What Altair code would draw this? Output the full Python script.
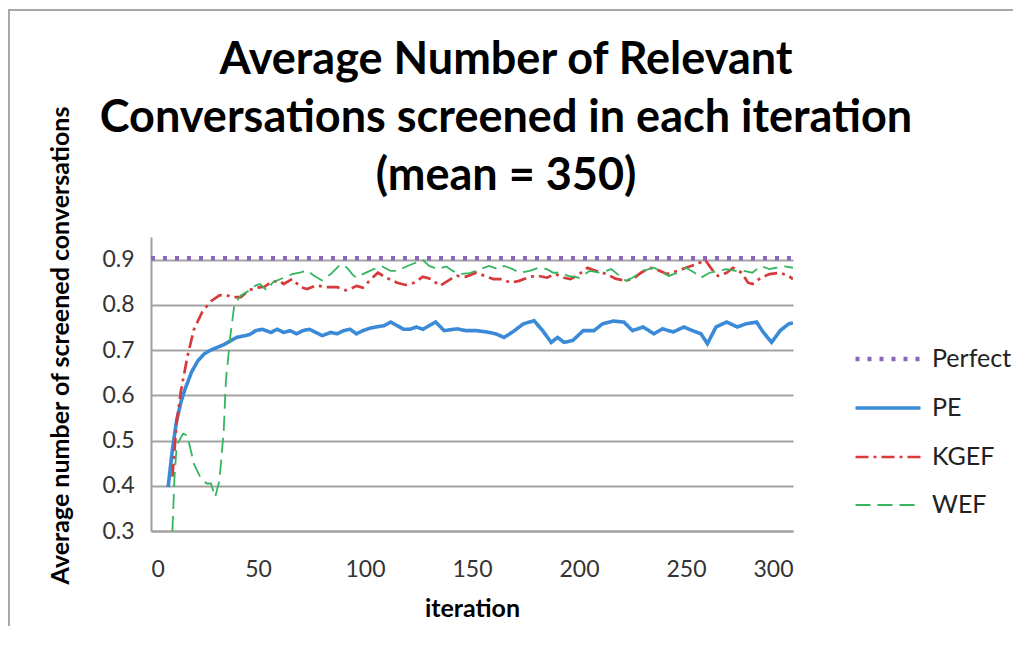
import altair as alt
import pandas as pd

# ---- data ----
perfect_x = [0, 300]
perfect_y = [0.903, 0.903]

pe_x = [8, 10, 12, 14, 16, 19, 22, 25, 28, 31, 34, 37, 40, 43, 46, 49, 52, 56, 59, 62,
        65, 68, 71, 74, 77, 80, 84, 87, 90, 93, 96, 99, 102, 105, 109, 112, 115, 118, 121, 124,
        127, 130, 133, 137, 143, 147, 152, 157, 161, 165, 169, 174, 179, 183, 187, 190, 193, 197, 202, 207,
        211, 216, 221, 225, 230, 235, 239, 244, 249, 253, 257, 260, 264, 269, 274, 278, 283, 286, 290, 294,
        298, 300]
pe_y = [0.397, 0.480, 0.545, 0.585, 0.615, 0.652, 0.677, 0.692, 0.700, 0.706, 0.712, 0.720, 0.728, 0.731, 0.734, 0.743, 0.746, 0.739, 0.746, 0.739,
        0.743, 0.736, 0.743, 0.746, 0.739, 0.732, 0.739, 0.736, 0.743, 0.746, 0.736, 0.743, 0.748, 0.751, 0.754, 0.762, 0.754, 0.746, 0.746, 0.751,
        0.746, 0.754, 0.762, 0.743, 0.747, 0.743, 0.743, 0.740, 0.736, 0.728, 0.740, 0.758, 0.765, 0.743, 0.717, 0.728, 0.717, 0.721, 0.743, 0.743,
        0.758, 0.764, 0.762, 0.743, 0.751, 0.736, 0.747, 0.740, 0.751, 0.743, 0.736, 0.714, 0.751, 0.762, 0.751, 0.758, 0.762, 0.740, 0.717, 0.743,
        0.758, 0.760]

kgef_x = [10, 12, 14, 17, 20, 24, 28, 32, 35, 38, 42, 46, 50, 53, 56, 60, 62, 66, 70, 73,
          77, 82, 87, 91, 93, 96, 99, 102, 106, 110, 115, 119, 123, 127, 131, 135, 140, 143, 147, 152,
          156, 160, 164, 168, 172, 177, 181, 185, 189, 193, 196, 199, 204, 208, 213, 217, 222, 226, 229, 233,
          236, 241, 246, 250, 255, 259, 262, 265, 269, 272, 276, 279, 281, 285, 289, 294, 298, 300]
kgef_y = [0.420, 0.540, 0.610, 0.685, 0.745, 0.785, 0.808, 0.821, 0.822, 0.817, 0.817, 0.833, 0.838, 0.840, 0.850, 0.854, 0.846, 0.857, 0.839, 0.835,
          0.843, 0.839, 0.839, 0.832, 0.835, 0.842, 0.838, 0.853, 0.871, 0.860, 0.849, 0.844, 0.849, 0.862, 0.857, 0.842, 0.857, 0.864, 0.862, 0.871,
          0.864, 0.857, 0.857, 0.849, 0.853, 0.862, 0.864, 0.860, 0.868, 0.860, 0.857, 0.864, 0.882, 0.875, 0.868, 0.858, 0.853, 0.860, 0.871, 0.882,
          0.879, 0.868, 0.875, 0.882, 0.890, 0.899, 0.879, 0.864, 0.871, 0.882, 0.871, 0.849, 0.846, 0.860, 0.868, 0.871, 0.864, 0.857]

wef_x = [10, 11, 12, 15, 17, 20, 23, 26, 28, 30, 32, 34, 35, 37, 39, 42, 46, 49, 51, 54,
         57, 62, 66, 70, 73, 76, 80, 84, 88, 90, 92, 94, 96, 99, 104, 108, 112, 115, 118, 123,
         127, 130, 134, 138, 141, 144, 149, 154, 158, 162, 165, 169, 172, 177, 181, 185, 188, 191, 195, 200,
         205, 210, 215, 218, 222, 225, 230, 235, 238, 242, 246, 250, 254, 257, 261, 265, 269, 273, 277, 281,
         285, 289, 292, 296, 300]
wef_y = [0.300, 0.420, 0.490, 0.515, 0.511, 0.449, 0.419, 0.405, 0.405, 0.375, 0.412, 0.523, 0.633, 0.728, 0.802, 0.821, 0.832, 0.843, 0.846, 0.832,
         0.850, 0.860, 0.868, 0.872, 0.876, 0.865, 0.854, 0.868, 0.887, 0.889, 0.880, 0.868, 0.860, 0.868, 0.879, 0.885, 0.875, 0.875, 0.882, 0.892,
         0.899, 0.886, 0.879, 0.885, 0.875, 0.868, 0.870, 0.879, 0.886, 0.879, 0.886, 0.879, 0.871, 0.875, 0.882, 0.879, 0.871, 0.871, 0.864, 0.860,
         0.875, 0.871, 0.879, 0.868, 0.853, 0.860, 0.875, 0.882, 0.875, 0.864, 0.871, 0.882, 0.871, 0.860, 0.871, 0.875, 0.879, 0.875, 0.875, 0.871,
         0.886, 0.879, 0.882, 0.885, 0.882]

series_names = ["Perfect", "PE", "KGEF", "WEF"]
series_colors = ["#8A68B8", "#3B8AD8", "#D63A3A", "#35B55E"]
series_dashes = [[4, 8], [1, 0], [13, 5, 3, 5], [15, 7]]
series_widths = [4.5, 1.8, 2, 2.5]

x_ticks = [0, 50, 100, 150, 200, 250, 300]
y_ticks = [0.3, 0.4, 0.5, 0.6, 0.7, 0.8, 0.9]

rows = []
for name, xs, ys in [("Perfect", perfect_x, perfect_y), ("PE", pe_x, pe_y),
                     ("KGEF", kgef_x, kgef_y), ("WEF", wef_x, wef_y)]:
    for xv, yv in zip(xs, ys):
        rows.append({"iteration": xv, "value": yv, "series": name})
df = pd.DataFrame(rows)

FONT = "Lato"

lines = alt.Chart(df).mark_line(clip=True).encode(
    x=alt.X("iteration:Q",
            scale=alt.Scale(domain=[0, 300], nice=False),
            axis=alt.Axis(values=x_ticks, title="iteration", grid=False, ticks=False,
                          labelPadding=27, titlePadding=15)),
    y=alt.Y("value:Q",
            scale=alt.Scale(domain=[0.3, 0.95], nice=False, zero=False),
            axis=alt.Axis(values=y_ticks, format=".1f", title="Average number of screened conversations",
                          grid=True, ticks=False, labelPadding=17,
                          titleAngle=270, titleX=-91, titleY=108,
                          titleAlign="center", titleBaseline="middle")),
    color=alt.Color("series:N",
                    scale=alt.Scale(domain=series_names, range=series_colors),
                    legend=alt.Legend(title=None, orient="none", legendX=702, legendY=87,
                                      symbolType="stroke", symbolSize=4225,
                                      labelFont=FONT, labelFontSize=25, labelColor="#222222",
                                      labelOffset=9, rowPadding=1.5, padding=0)),
    strokeDash=alt.StrokeDash("series:N",
                              scale=alt.Scale(domain=series_names, range=series_dashes)),
    strokeWidth=alt.StrokeWidth("series:N",
                                scale=alt.Scale(domain=series_names, range=series_widths)),
)

# outer chart-area border (top and left edges, as in the reference frame)
frame_df = pd.DataFrame({"k": [0]})
border_top = alt.Chart(frame_df).mark_rule(color="#a8a8a8", strokeWidth=2, clip=False).encode(
    x=alt.value(-143), x2=alt.value(900), y=alt.value(-227))
border_left = alt.Chart(frame_df).mark_rule(color="#a8a8a8", strokeWidth=2, clip=False).encode(
    x=alt.value(-142), y=alt.value(-227), y2=alt.value(394))

chart = alt.layer(border_top, border_left, lines).properties(
    width=642,
    height=294,
    autosize=alt.AutoSizeParams(type="none"),
    padding={"left": 143, "top": 229, "right": 220, "bottom": 95},
    title=alt.TitleParams(
        text=["Average Number of Relevant", "Conversations screened in each iteration", "(mean = 350)"],
        font=FONT, fontSize=45, fontWeight="bold", color="#000000",
        lineHeight=58, anchor="middle", dx=34, offset=-190,
    ),
).configure_axis(
    labelFont=FONT, labelFontSize=23, labelColor="#333333",
    titleFont=FONT, titleFontSize=25, titleFontWeight="bold", titleColor="#000000",
    domainColor="#9f9f9f", domainWidth=2, gridColor="#a3a3a3", gridWidth=2,
).configure_view(stroke=None)

chart.save("out.html", embed_options={"renderer": "svg", "actions": False})
